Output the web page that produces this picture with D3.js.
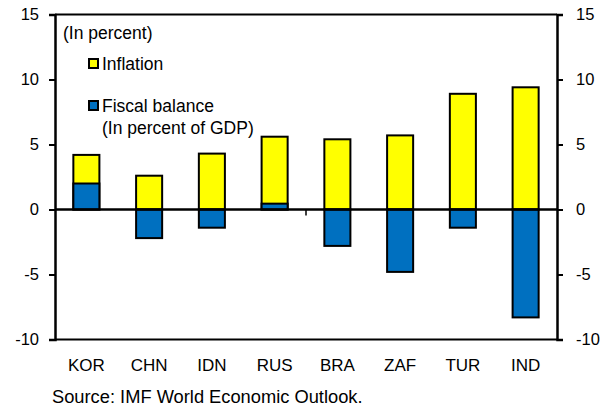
<!DOCTYPE html>
<html>
<head>
<meta charset="utf-8">
<script src="https://cdn.jsdelivr.net/npm/d3@7"></script>
<style>
  body { margin: 0; background: #fff; }
  svg { display: block; }
  text { font-family: 'Liberation Sans', Arial, sans-serif; fill: #000; }
</style>
</head>
<body>
<svg id="chart" width="608" height="406"></svg>
<script>
// data
var countries = ['KOR', 'CHN', 'IDN', 'RUS', 'BRA', 'ZAF', 'TUR', 'IND'];
var inflation = [4.2, 2.6, 4.3, 5.6, 5.4, 5.7, 8.9, 9.4];
var fiscalBalance = [2.0, -2.2, -1.4, 0.45, -2.8, -4.8, -1.4, -8.3];
var yTicks = [-10, -5, 0, 5, 10, 15];

(function () {
  "use strict";

  var colors = { inflation: '#FFFF00', fiscal: '#0070C0' };
  var fontFamily = "'Liberation Sans', Arial, sans-serif";

  var svg = d3.select('#chart');
  var plot = { left: 55, right: 557, top: 14.5, bottom: 339.5 };

  var x = d3.scaleBand()
    .domain(countries)
    .range([plot.left, plot.right])
    .paddingInner(0.585)
    .paddingOuter(0.2925);

  var y = d3.scaleLinear()
    .domain([-10, 15])
    .range([plot.bottom, plot.top]);

  // frame top/bottom
  [plot.top, plot.bottom].forEach(function (yy) {
    svg.append('line')
      .attr('x1', plot.left).attr('x2', plot.right)
      .attr('y1', yy).attr('y2', yy)
      .attr('stroke', '#000').attr('stroke-width', 2);
  });

  // bars: inflation behind, fiscal balance in front
  function drawBars(values, color) {
    svg.append('g').selectAll('rect')
      .data(values)
      .enter().append('rect')
      .attr('x', function (d, i) { return x(countries[i]); })
      .attr('width', x.bandwidth())
      .attr('y', function (d) { return y(Math.max(d, 0)); })
      .attr('height', function (d) { return Math.abs(y(d) - y(0)); })
      .attr('fill', color)
      .attr('stroke', '#000')
      .attr('stroke-width', 2);
  }
  drawBars(inflation, colors.inflation);
  drawBars(fiscalBalance, colors.fiscal);

  // axes on both sides (plain hyphen for negatives, like the original)
  var fmt = function (d) { return String(d); };
  var yLeft = svg.append('g')
    .attr('transform', 'translate(' + plot.left + ',0)')
    .call(d3.axisLeft(y).tickValues(yTicks).tickSize(6).tickPadding(10).tickFormat(fmt));
  var yRight = svg.append('g')
    .attr('transform', 'translate(' + plot.right + ',0)')
    .call(d3.axisRight(y).tickValues(yTicks).tickSize(6).tickPadding(13).tickFormat(fmt));

  [yLeft, yRight].forEach(function (g) {
    g.select('.domain').attr('stroke-width', 2.5);
    g.selectAll('.tick line').attr('stroke-width', 2);
    g.selectAll('.tick text')
      .attr('font-size', 16.5)
      .attr('font-family', fontFamily);
  });

  // zero line with the lone category tick
  svg.append('line')
    .attr('x1', plot.left).attr('x2', plot.right)
    .attr('y1', y(0)).attr('y2', y(0))
    .attr('stroke', '#000').attr('stroke-width', 2.5);
  var midX = x(countries[4]) - x.step() * x.paddingInner() / 2;
  svg.append('line')
    .attr('x1', midX).attr('x2', midX)
    .attr('y1', y(0)).attr('y2', y(0) + 6)
    .attr('stroke', '#000').attr('stroke-width', 1.5);

  // category labels
  svg.append('g').selectAll('text')
    .data(countries)
    .enter().append('text')
    .attr('x', function (d) { return x(d) + x.bandwidth() / 2; })
    .attr('y', 371)
    .attr('text-anchor', 'middle')
    .attr('font-size', 17)
    .text(function (d) { return d; });

  // legend
  svg.append('text').attr('x', 63).attr('y', 39).attr('font-size', 17.5).text('(In percent)');
  var legend = [
    { label: ['Inflation'], color: colors.inflation, y: 59 },
    { label: ['Fiscal balance', '(In percent of GDP)'], color: colors.fiscal, y: 101 }
  ];
  legend.forEach(function (item) {
    svg.append('rect')
      .attr('x', 89).attr('y', item.y)
      .attr('width', 9).attr('height', 9)
      .attr('fill', item.color)
      .attr('stroke', '#000').attr('stroke-width', 2);
    item.label.forEach(function (t, i) {
      svg.append('text')
        .attr('x', 102).attr('y', item.y + 11 + i * 22)
        .attr('font-size', 17.5)
        .text(t);
    });
  });

  // source
  svg.append('text').attr('x', 52).attr('y', 403).attr('font-size', 18.3)
    .text('Source: IMF World Economic Outlook.');
}());
</script>
</body>
</html>
